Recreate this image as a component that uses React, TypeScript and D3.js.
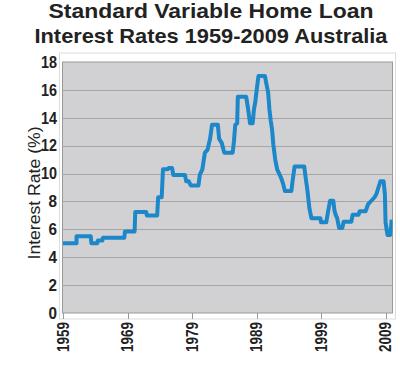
import React from "react";
import * as d3 from "d3";

const titleLines = ["Standard Variable Home Loan", "Interest Rates 1959-2009 Australia"];
const yLabel = "Interest Rate (%)";
const yTicks = [0, 2, 4, 6, 8, 10, 12, 14, 16, 18];
const xTicks = [1959, 1969, 1979, 1989, 1999, 2009];

const years = [
  1959.0, 1961.1, 1961.1, 1963.3, 1963.4, 1964.3, 1964.4, 1965.1, 1965.2, 1968.5,
  1968.6, 1970.1, 1970.2, 1971.9, 1972.0, 1973.6, 1973.75, 1974.3, 1974.5, 1975.2,
  1975.4, 1975.9, 1976.1, 1977.9, 1978.1, 1978.5, 1978.8, 1980.0, 1980.2, 1980.6,
  1981.0, 1981.4, 1981.8, 1982.1, 1983.0, 1983.2, 1983.6, 1984.0, 1985.3, 1985.5,
  1985.7, 1986.0, 1986.1, 1987.4, 1987.7, 1988.0, 1988.4, 1988.6, 1988.8, 1989.0,
  1989.3, 1990.3, 1990.5, 1990.8, 1991.0, 1991.2, 1991.4, 1991.6, 1991.9, 1992.2,
  1992.6, 1992.8, 1993.1, 1993.4, 1994.4, 1994.6, 1994.9, 1996.4, 1996.6, 1996.9,
  1997.2, 1997.5, 1998.9, 1999.0, 1999.8, 2000.1, 2000.4, 2000.9, 2001.1, 2001.3,
  2001.5, 2001.8, 2002.3, 2002.5, 2003.7, 2003.9, 2004.8, 2005.0, 2005.9, 2006.1,
  2006.3, 2006.8, 2007.3, 2007.6, 2007.9, 2008.2, 2008.7, 2008.9, 2009.0, 2009.3,
  2009.75, 2009.95,
];
const rates = [
  5.0, 5.0, 5.5, 5.5, 5.0, 5.0, 5.2, 5.2, 5.4, 5.4,
  5.85, 5.85, 7.25, 7.25, 7.0, 7.0, 8.3, 8.3, 10.3, 10.3,
  10.4, 10.4, 9.9, 9.9, 9.45, 9.45, 9.15, 9.15, 9.9, 10.3,
  11.5, 11.7, 12.5, 13.5, 13.5, 12.5, 12.2, 11.5, 11.5, 12.3,
  13.5, 13.6, 15.5, 15.5, 14.6, 13.6, 13.6, 14.6, 15.1, 15.9,
  17.0, 17.0, 16.5, 15.8, 14.6, 13.8, 13.2, 12.1, 11.0, 10.3,
  9.9, 9.7, 9.3, 8.75, 8.75, 9.5, 10.5, 10.5, 9.75, 8.75,
  7.5, 6.8, 6.8, 6.5, 6.5, 7.3, 8.05, 8.05, 7.3, 7.0,
  6.8, 6.1, 6.1, 6.55, 6.55, 7.05, 7.05, 7.3, 7.3, 7.55,
  7.8, 8.05, 8.3, 8.55, 9.0, 9.45, 9.45, 8.5, 6.5, 5.6,
  5.6, 6.7,
];

const FONT = "'Liberation Sans', Arial, sans-serif";

export default function App() {
  const plot = { left: 62.5, right: 392.5, top: 62, bottom: 313 };
  const x = d3.scaleLinear().domain([1959, 2010]).range([63, 392]);
  const y = d3.scaleLinear().domain([0, 18]).range([plot.bottom, plot.top]);
  const pts: [number, number][] = years.map((yr, i) => [yr, rates[i]]);
  const line = d3
    .line<[number, number]>()
    .x((d) => x(d[0]))
    .y((d) => y(d[1]));

  return (
    <svg
      width={400}
      height={380}
      viewBox="0 0 400 380"
      style={{ position: "absolute", left: 0, top: 0, background: "#fff" }}
    >
      <rect x={0} y={0} width={400} height={380} fill="#fff" />
      {titleLines.map((t, i) => (
        <text
          key={t}
          x={211}
          y={18 + i * 25}
          textAnchor="middle"
          fontFamily={FONT}
          fontWeight="bold"
          fontSize={21}
          fill="#222"
          textLength={i === 0 ? 325 : 353}
          lengthAdjust="spacingAndGlyphs"
        >
          {t}
        </text>
      ))}
      {/* outer frame */}
      <rect x={59.5} y={53} width={336} height={266} fill="none" stroke="#dcdcdc" strokeWidth={1} />
      {/* plot area */}
      <rect
        x={plot.left}
        y={plot.top}
        width={plot.right - plot.left}
        height={plot.bottom - plot.top}
        fill="#d1d1d3"
        stroke="#999"
        strokeWidth={1}
      />
      {yTicks
        .filter((t) => t > 0 && t < 18)
        .map((t) => (
          <line
            key={t}
            x1={plot.left}
            x2={plot.right}
            y1={Math.round(y(t)) + 0.5}
            y2={Math.round(y(t)) + 0.5}
            stroke="#a6a6a6"
            strokeWidth={1}
          />
        ))}
      {xTicks.map((t) => (
        <line
          key={t}
          x1={Math.round(x(t)) + 0.5}
          x2={Math.round(x(t)) + 0.5}
          y1={plot.bottom}
          y2={319}
          stroke="#999"
          strokeWidth={1}
        />
      ))}
      <defs>
        <clipPath id="plotclip">
          <rect x={plot.left} y={plot.top - 5} width={plot.right - plot.left} height={plot.bottom - plot.top + 5} />
        </clipPath>
      </defs>
      <path
        d={line(pts) || ""}
        fill="none"
        stroke="#1c87c9"
        strokeWidth={4}
        strokeLinejoin="round"
        strokeLinecap="butt"
        clipPath="url(#plotclip)"
      />
      {yTicks.map((t) => (
        <text
          key={t}
          x={57}
          y={y(t)}
          dy="0.36em"
          textAnchor="end"
          fontFamily={FONT}
          fontWeight="bold"
          fontSize={16}
          fill="#222"
          textLength={t >= 10 ? 16 : 8.5}
          lengthAdjust="spacingAndGlyphs"
        >
          {t}
        </text>
      ))}
      {xTicks.map((t) => (
        <text
          key={t}
          transform={`translate(${x(t) + 5.5},322) rotate(-90)`}
          textAnchor="end"
          fontFamily={FONT}
          fontWeight="bold"
          fontSize={16}
          fill="#222"
          textLength={30}
          lengthAdjust="spacingAndGlyphs"
        >
          {t}
        </text>
      ))}
      <text
        transform="translate(39.5,193) rotate(-90)"
        textAnchor="middle"
        fontFamily={FONT}
        fontSize={16}
        fill="#222"
        textLength={133}
        lengthAdjust="spacingAndGlyphs"
      >
        {yLabel}
      </text>
    </svg>
  );
}
